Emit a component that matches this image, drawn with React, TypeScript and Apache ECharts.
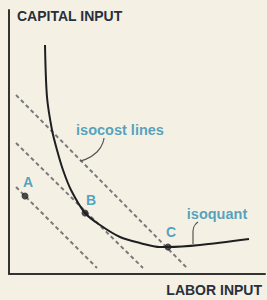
import React, { useEffect, useRef } from "react";
import * as echarts from "echarts";

// Coordinates in "input units"
const isoquantX = [36, 38, 43, 48, 54, 62, 76, 91, 111, 131, 151, 159, 191, 240];
const isoquantY = [229, 177, 144, 124, 104, 84, 61, 49, 37, 31, 27, 27, 29, 35];

const isocost1 = [[7, 179], [178, 6]];
const isocost2 = [[7, 131], [134, 6]];
const isocost3 = [[7, 87], [88, 6]];

const pointNames = ["A", "B", "C"];
const pointX = [16, 76, 159];
const pointY = [78, 61, 27];
const pointLabelX = [19, 82, 162];
const pointLabelY = [92, 74, 42];

const isocostLeader = [[95, 136], [88, 122], [71, 113]];
const isoquantLeader = [[189, 52], [184, 43], [184, 30]];

const annotationTexts = ["isocost lines", "isoquant"];
const annotationX = [111, 208];
const annotationY = [144, 60];

const yAxisTitle = "CAPITAL INPUT";
const xAxisTitle = "LABOR INPUT";

export default function App() {
  const ref = useRef<HTMLDivElement>(null);
  useEffect(() => {
    if (!ref.current) return;
    const chart = echarts.init(ref.current, undefined, { renderer: "svg" });
    const teal = "#2b8db3";
    const dark = "#1f1f22";
    const dashColor = "#7a7a7a";
    const dashed = (data: number[][]) => ({
      type: "line",
      data,
      symbol: "none",
      silent: true,
      lineStyle: { color: dashColor, width: 2, type: [4, 3] },
      z: 1,
    });
    chart.setOption({
      animation: false,
      backgroundColor: "#f4f1e4",
      grid: { left: 9, right: 2, top: 10, bottom: 26, containLabel: false },
      xAxis: {
        type: "value",
        min: 0,
        max: 256,
        axisLine: { show: true, lineStyle: { color: "#333", width: 2 } },
        axisTick: { show: false },
        axisLabel: { show: false },
        splitLine: { show: false },
      },
      yAxis: {
        type: "value",
        min: 0,
        max: 264,
        axisLine: { show: true, lineStyle: { color: "#333", width: 2 } },
        axisTick: { show: false },
        axisLabel: { show: false },
        splitLine: { show: false },
      },
      graphic: [
        {
          type: "text",
          left: 17,
          top: 9,
          style: {
            text: yAxisTitle,
            font: "bold 14px 'Liberation Sans', sans-serif",
            fill: "#2a2f3c",
          },
        },
        {
          type: "text",
          right: 5,
          top: 283,
          style: {
            text: xAxisTitle,
            font: "bold 14px 'Liberation Sans', sans-serif",
            fill: "#2a2f3c",
          },
        },
      ],
      series: [
        dashed(isocost1),
        dashed(isocost2),
        dashed(isocost3),
        {
          type: "line",
          data: isoquantX.map((x, i) => [x, isoquantY[i]]),
          smooth: 0.3,
          symbol: "none",
          lineStyle: { color: dark, width: 2 },
          z: 3,
        },
        {
          type: "line",
          data: isocostLeader,
          smooth: 0.6,
          symbol: "none",
          lineStyle: { color: "#555", width: 1.2 },
          z: 3,
        },
        {
          type: "line",
          data: isoquantLeader,
          smooth: 0.6,
          symbol: "none",
          lineStyle: { color: "#555", width: 1.2 },
          z: 3,
        },
        {
          type: "scatter",
          data: pointX.map((x, i) => [x, pointY[i]]),
          symbolSize: 7,
          itemStyle: { color: dark },
          z: 4,
        },
        {
          type: "scatter",
          data: pointLabelX.map((x, i) => ({ value: [x, pointLabelY[i]], name: pointNames[i] })),
          symbolSize: 0,
          label: {
            show: true,
            position: "inside",
            formatter: (p: any) => p.name,
            color: teal,
            fontWeight: "bold",
            fontSize: 14,
            fontFamily: "'Liberation Sans', sans-serif",
          },
          z: 5,
        },
        {
          type: "scatter",
          data: annotationX.map((x, i) => ({ value: [x, annotationY[i]], name: annotationTexts[i] })),
          symbolSize: 0,
          label: {
            show: true,
            position: "inside",
            formatter: (p: any) => p.name,
            color: teal,
            fontWeight: "bold",
            fontSize: 14.5,
            fontFamily: "'Liberation Sans', sans-serif",
          },
          z: 5,
        },
      ],
    });
    return () => chart.dispose();
  }, []);
  return <div ref={ref} style={{ width: 267, height: 300, position: "absolute", left: 0, top: 0 }} />;
}
